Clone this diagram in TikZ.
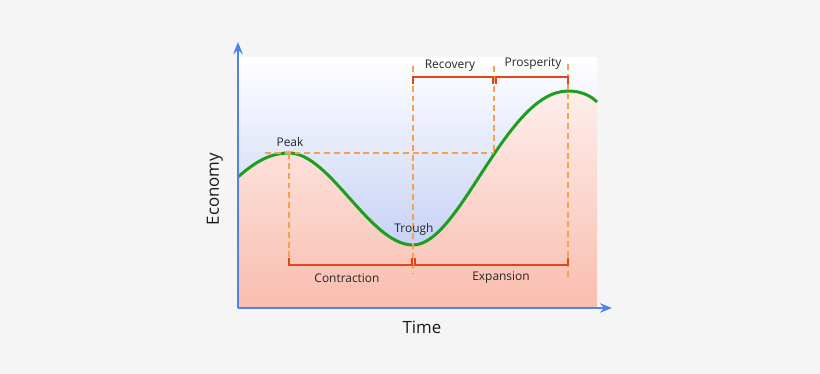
\documentclass[tikz,border=0pt]{standalone}
\usepackage{fontspec}
\setmainfont{Open Sans}
\usetikzlibrary{arrows.meta}
\definecolor{bggray}{HTML}{F5F5F5}
\definecolor{skyblue}{HTML}{C6D1F6}
\definecolor{pinktop}{HTML}{FDEEEB}
\definecolor{salmon}{HTML}{F9BDAE}
\definecolor{axisblue}{HTML}{5083E6}
\definecolor{dashorange}{HTML}{F4A24E}
\definecolor{bracketred}{HTML}{E0461C}
\definecolor{curvegreen}{HTML}{1E9E1E}
\def\econpath{(238,177) .. controls (255,162) and (270,153) .. (289,153) .. controls (330,153) and (370,245) .. (413,245) .. controls (460,245) and (506,91) .. (568,91) .. controls (580,91) and (590,95) .. (597,102)}
\begin{document}
\begin{tikzpicture}[x=0.02cm,y=-0.02cm,
    guide/.style={draw=dashorange,line width=0.75pt,dash pattern=on 3.4pt off 2.2pt},
    bracket/.style={draw=bracketred,line width=1.6pt},
    lbl/.style={font=\fontsize{6.8}{8}\selectfont,text=black!85},
    axlbl/.style={font=\fontsize{9.6}{11}\selectfont,text=black!90},
    axis/.style={draw=axisblue,line width=0.9pt,-{Stealth[length=7pt,width=5.5pt,inset=2.5pt]}}]
    \useasboundingbox[fill=bggray] (0,0) rectangle (820,374);
    % background of the plot
    \begin{scope}
        \clip (238,57) -- \econpath -- (597,57) -- cycle;
        \shade[top color=white,bottom color=skyblue] (238,57) rectangle (597,248);
    \end{scope}
    \begin{scope}
        \clip \econpath -- (597,308) -- (238,308) -- cycle;
        \shade[top color=pinktop,bottom color=salmon] (238,91) rectangle (597,308);
    \end{scope}
    \draw[curvegreen,line width=1.7pt] \econpath;
    \coordinate (peak) at (289,153);
    \coordinate (trough) at (413,245);
    \coordinate (cross) at (494,153);
    \coordinate (top) at (568,91);
    % guide lines
    \draw[guide] (265,153) -- (cross);
    \draw[guide] (peak) -- (peak |- 0,258);
    \draw[guide] (trough |- 0,66) -- (trough |- 0,273);
    \draw[guide] (cross |- 0,66) -- (cross);
    \draw[guide] (top |- 0,64) -- (top |- 0,279);
    % phases
    \draw[bracket] (413,84) -- (413,77) -- (493,77) -- (493,84);
    \draw[bracket] (496,84) -- (496,77) -- (568,77) -- (568,84);
    \draw[bracket] (289,258) -- (289,265) -- (412,265) -- (412,258);
    \draw[bracket] (415,258) -- (415,265) -- (568,265) -- (568,258);
    \node[lbl] (pklbl) at (290,142) {Peak};
    \node[lbl] (trlbl) at (414,229) {Trough};
    \node[lbl] (recovery) at (450,66) {Recovery};
    \node[lbl] (prosperity) at (533,64) {Prosperity};
    \node[lbl] (contraction) at (347,278) {Contraction};
    \node[lbl] (expansion) at (501,278) {Expansion};
    % axes
    \coordinate (origin) at (238,308);
    \draw[axis] (origin) -- (238,42);
    \draw[axis] (origin) -- (612,308);
    \node[axlbl] (xlab) at (422,327) {Time};
    \node[axlbl,rotate=90] (ylab) at (215,189) {Economy};
\end{tikzpicture}
\end{document}
